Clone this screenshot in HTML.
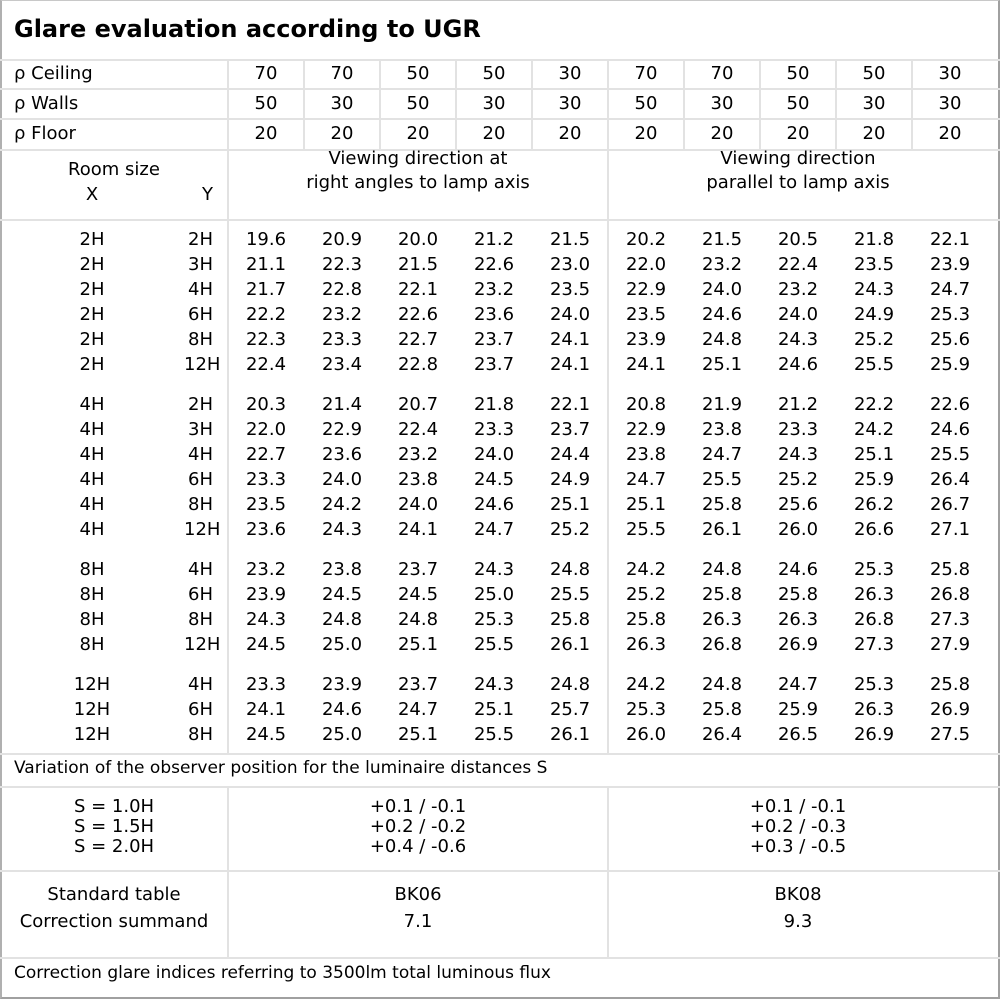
<!DOCTYPE html>
<html><head><meta charset="utf-8"><style>
body{margin:0;width:1000px;height:1000px;background:#fff;position:relative;overflow:hidden;font-family:"DejaVu Sans",sans-serif;font-size:18px;color:#000}
.box{position:absolute;left:0;top:0;width:996px;height:996px;border:2px solid #a0a0a0;border-top:1px solid #c8c8c8;border-left:2px solid #b0b0b0}
.h{position:absolute;left:0;width:1000px;height:2px;background:#e2e2e2}
.v{position:absolute;width:2px;background:#e2e2e2}
.t{position:absolute;white-space:nowrap;line-height:25px;height:25px}
.r{position:absolute;left:0;height:25px;line-height:25px;display:flex;white-space:nowrap}
.r span{display:inline-block;width:76px;text-align:center}
.r span.x{width:184px}
.r span.y{width:44px;text-align:right;padding-right:15px;box-sizing:border-box}
.r span.l{width:228px;text-align:left;padding-left:14px;box-sizing:border-box}
.c{position:absolute;text-align:center;line-height:20px;white-space:nowrap}
</style></head><body>
<div class="box"></div>
<div class="t" style="left:14px;top:14px;font-weight:bold;font-size:24px;line-height:30px;height:30px">Glare evaluation according to UGR</div>
<div class="h" style="top:59px"></div>
<div class="h" style="top:88px"></div>
<div class="h" style="top:118px"></div>
<div class="h" style="top:149px"></div>
<div class="h" style="top:219px"></div>
<div class="h" style="top:753px"></div>
<div class="h" style="top:786px"></div>
<div class="h" style="top:870px"></div>
<div class="h" style="top:957px"></div>
<div class="v" style="left:227px;top:60px;height:694px"></div>
<div class="v" style="left:227px;top:787px;height:171px"></div>
<div class="v" style="left:607px;top:150px;height:604px"></div>
<div class="v" style="left:607px;top:787px;height:171px"></div>
<div class="v" style="left:303px;top:60px;height:90px"></div>
<div class="v" style="left:379px;top:60px;height:90px"></div>
<div class="v" style="left:455px;top:60px;height:90px"></div>
<div class="v" style="left:531px;top:60px;height:90px"></div>
<div class="v" style="left:607px;top:60px;height:90px"></div>
<div class="v" style="left:683px;top:60px;height:90px"></div>
<div class="v" style="left:759px;top:60px;height:90px"></div>
<div class="v" style="left:835px;top:60px;height:90px"></div>
<div class="v" style="left:911px;top:60px;height:90px"></div>

<div class="r" style="top:61px"><span class="l">ρ Ceiling</span><span>70</span><span>70</span><span>50</span><span>50</span><span>30</span><span>70</span><span>70</span><span>50</span><span>50</span><span>30</span></div>
<div class="r" style="top:91px"><span class="l">ρ Walls</span><span>50</span><span>30</span><span>50</span><span>30</span><span>30</span><span>50</span><span>30</span><span>50</span><span>30</span><span>30</span></div>
<div class="r" style="top:121px"><span class="l">ρ Floor</span><span>20</span><span>20</span><span>20</span><span>20</span><span>20</span><span>20</span><span>20</span><span>20</span><span>20</span><span>20</span></div>

<div class="t" style="left:0;width:228px;text-align:center;top:157px">Room size</div>
<div class="t" style="left:0;width:184px;text-align:center;top:182px">X</div>
<div class="t" style="left:184px;width:44px;text-align:right;padding-right:15px;box-sizing:border-box;top:182px">Y</div>
<div class="t" style="left:228px;width:380px;text-align:center;top:146px">Viewing direction at</div>
<div class="t" style="left:228px;width:380px;text-align:center;top:170px">right angles to lamp axis</div>
<div class="t" style="left:608px;width:380px;text-align:center;top:146px">Viewing direction</div>
<div class="t" style="left:608px;width:380px;text-align:center;top:170px">parallel to lamp axis</div>

<div class="r" style="top:227px"><span class="x">2H</span><span class="y">2H</span><span>19.6</span><span>20.9</span><span>20.0</span><span>21.2</span><span>21.5</span><span>20.2</span><span>21.5</span><span>20.5</span><span>21.8</span><span>22.1</span></div>
<div class="r" style="top:252px"><span class="x">2H</span><span class="y">3H</span><span>21.1</span><span>22.3</span><span>21.5</span><span>22.6</span><span>23.0</span><span>22.0</span><span>23.2</span><span>22.4</span><span>23.5</span><span>23.9</span></div>
<div class="r" style="top:277px"><span class="x">2H</span><span class="y">4H</span><span>21.7</span><span>22.8</span><span>22.1</span><span>23.2</span><span>23.5</span><span>22.9</span><span>24.0</span><span>23.2</span><span>24.3</span><span>24.7</span></div>
<div class="r" style="top:302px"><span class="x">2H</span><span class="y">6H</span><span>22.2</span><span>23.2</span><span>22.6</span><span>23.6</span><span>24.0</span><span>23.5</span><span>24.6</span><span>24.0</span><span>24.9</span><span>25.3</span></div>
<div class="r" style="top:327px"><span class="x">2H</span><span class="y">8H</span><span>22.3</span><span>23.3</span><span>22.7</span><span>23.7</span><span>24.1</span><span>23.9</span><span>24.8</span><span>24.3</span><span>25.2</span><span>25.6</span></div>
<div class="r" style="top:352px"><span class="x">2H</span><span class="y">12H</span><span>22.4</span><span>23.4</span><span>22.8</span><span>23.7</span><span>24.1</span><span>24.1</span><span>25.1</span><span>24.6</span><span>25.5</span><span>25.9</span></div>

<div class="r" style="top:392px"><span class="x">4H</span><span class="y">2H</span><span>20.3</span><span>21.4</span><span>20.7</span><span>21.8</span><span>22.1</span><span>20.8</span><span>21.9</span><span>21.2</span><span>22.2</span><span>22.6</span></div>
<div class="r" style="top:417px"><span class="x">4H</span><span class="y">3H</span><span>22.0</span><span>22.9</span><span>22.4</span><span>23.3</span><span>23.7</span><span>22.9</span><span>23.8</span><span>23.3</span><span>24.2</span><span>24.6</span></div>
<div class="r" style="top:442px"><span class="x">4H</span><span class="y">4H</span><span>22.7</span><span>23.6</span><span>23.2</span><span>24.0</span><span>24.4</span><span>23.8</span><span>24.7</span><span>24.3</span><span>25.1</span><span>25.5</span></div>
<div class="r" style="top:467px"><span class="x">4H</span><span class="y">6H</span><span>23.3</span><span>24.0</span><span>23.8</span><span>24.5</span><span>24.9</span><span>24.7</span><span>25.5</span><span>25.2</span><span>25.9</span><span>26.4</span></div>
<div class="r" style="top:492px"><span class="x">4H</span><span class="y">8H</span><span>23.5</span><span>24.2</span><span>24.0</span><span>24.6</span><span>25.1</span><span>25.1</span><span>25.8</span><span>25.6</span><span>26.2</span><span>26.7</span></div>
<div class="r" style="top:517px"><span class="x">4H</span><span class="y">12H</span><span>23.6</span><span>24.3</span><span>24.1</span><span>24.7</span><span>25.2</span><span>25.5</span><span>26.1</span><span>26.0</span><span>26.6</span><span>27.1</span></div>

<div class="r" style="top:557px"><span class="x">8H</span><span class="y">4H</span><span>23.2</span><span>23.8</span><span>23.7</span><span>24.3</span><span>24.8</span><span>24.2</span><span>24.8</span><span>24.6</span><span>25.3</span><span>25.8</span></div>
<div class="r" style="top:582px"><span class="x">8H</span><span class="y">6H</span><span>23.9</span><span>24.5</span><span>24.5</span><span>25.0</span><span>25.5</span><span>25.2</span><span>25.8</span><span>25.8</span><span>26.3</span><span>26.8</span></div>
<div class="r" style="top:607px"><span class="x">8H</span><span class="y">8H</span><span>24.3</span><span>24.8</span><span>24.8</span><span>25.3</span><span>25.8</span><span>25.8</span><span>26.3</span><span>26.3</span><span>26.8</span><span>27.3</span></div>
<div class="r" style="top:632px"><span class="x">8H</span><span class="y">12H</span><span>24.5</span><span>25.0</span><span>25.1</span><span>25.5</span><span>26.1</span><span>26.3</span><span>26.8</span><span>26.9</span><span>27.3</span><span>27.9</span></div>

<div class="r" style="top:672px"><span class="x">12H</span><span class="y">4H</span><span>23.3</span><span>23.9</span><span>23.7</span><span>24.3</span><span>24.8</span><span>24.2</span><span>24.8</span><span>24.7</span><span>25.3</span><span>25.8</span></div>
<div class="r" style="top:697px"><span class="x">12H</span><span class="y">6H</span><span>24.1</span><span>24.6</span><span>24.7</span><span>25.1</span><span>25.7</span><span>25.3</span><span>25.8</span><span>25.9</span><span>26.3</span><span>26.9</span></div>
<div class="r" style="top:722px"><span class="x">12H</span><span class="y">8H</span><span>24.5</span><span>25.0</span><span>25.1</span><span>25.5</span><span>26.1</span><span>26.0</span><span>26.4</span><span>26.5</span><span>26.9</span><span>27.5</span></div>

<div class="t" style="left:14px;top:756px;font-size:17px">Variation of the observer position for the luminaire distances S</div>

<div class="c" style="left:0;width:228px;top:797px">S = 1.0H<br>S = 1.5H<br>S = 2.0H</div>
<div class="c" style="left:228px;width:380px;top:797px">+0.1 / -0.1<br>+0.2 / -0.2<br>+0.4 / -0.6</div>
<div class="c" style="left:608px;width:380px;top:797px">+0.1 / -0.1<br>+0.2 / -0.3<br>+0.3 / -0.5</div>

<div class="c" style="left:0;width:228px;top:881px;line-height:27px">Standard table<br>Correction summand</div>
<div class="c" style="left:228px;width:380px;top:881px;line-height:27px">BK06<br>7.1</div>
<div class="c" style="left:608px;width:380px;top:881px;line-height:27px">BK08<br>9.3</div>

<div class="t" style="left:14px;top:961px;font-size:17px">Correction glare indices referring to 3500lm total luminous flux</div>
</body></html>
